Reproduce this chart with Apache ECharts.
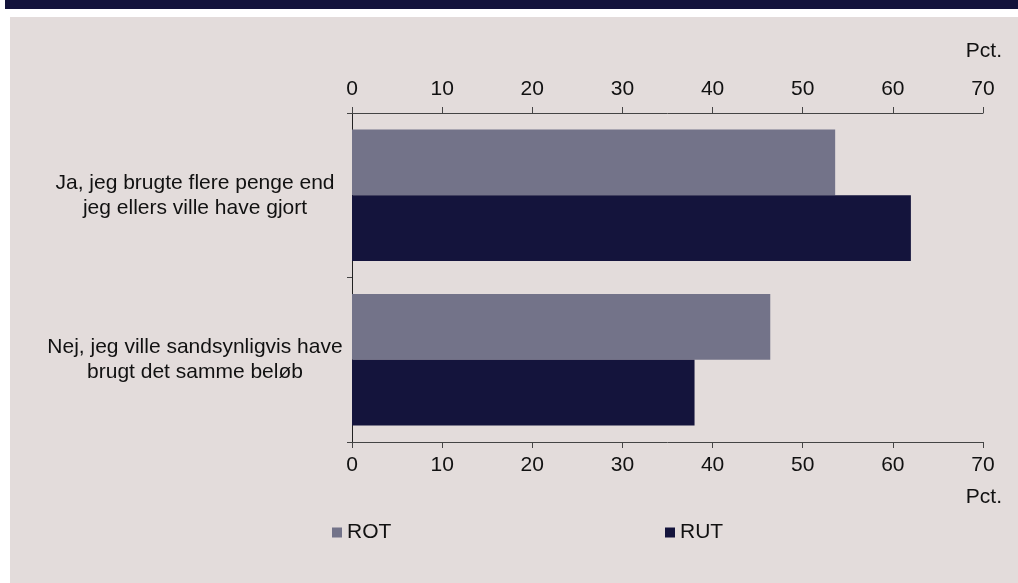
<!DOCTYPE html>
<html><head><meta charset="utf-8">
<script src="https://cdn.jsdelivr.net/npm/echarts@6/dist/echarts.min.js"></script>
<style>html,body{margin:0;padding:0;background:#fff;}#c{width:1018px;height:583px;}</style>
</head><body><div id="c"></div>
<script>
const categories = ['Ja, jeg brugte flere penge end\njeg ellers ville have gjort', 'Nej, jeg ville sandsynligvis have\nbrugt det samme beløb'];
const seriesNames = ['ROT', 'RUT'];
const rotValues = [53.6, 46.4];
const rutValues = [62.0, 38.0];
const xTicks = { min: 0, max: 70, interval: 10 };
const unitLabel = 'Pct.';

const font = 'Liberation Sans, Arial, sans-serif';
const fs = 21;
const axisColor = '#444444';
const textColor = '#111111';
const chart = echarts.init(document.getElementById('c'));
const xAxisBase = {
  type: 'value', min: xTicks.min, max: xTicks.max, interval: xTicks.interval,
  axisLine: { show: true, lineStyle: { color: axisColor, width: 1 } },
  axisTick: { show: true, inside: false, length: 6, lineStyle: { color: axisColor } },
  splitLine: { show: false },
  axisLabel: { color: textColor, fontSize: fs, fontFamily: font, margin: 13 }
};
chart.setOption({
  backgroundColor: '#ffffff',
  animation: false,
  graphic: [
    { type: 'rect', shape: { x: 5, y: 0, width: 1013, height: 9 }, style: { fill: '#13133b' }, z: -10 },
    { type: 'rect', shape: { x: 10, y: 17, width: 1008, height: 566 }, style: { fill: '#e3dcdb' }, z: -10 },
    { type: 'text', right: 16, top: 41, style: { text: unitLabel, fill: textColor, font: fs + 'px ' + font } },
    { type: 'text', right: 16, top: 487, style: { text: unitLabel, fill: textColor, font: fs + 'px ' + font } }
  ],
  grid: { left: 352, right: 35, top: 113, bottom: 141, containLabel: false },
  legend: [
    { data: ['ROT'], left: 332, top: 522, padding: 0, itemWidth: 10, itemHeight: 10, icon: 'rect',
      textStyle: { color: textColor, fontSize: fs, fontFamily: font } },
    { data: ['RUT'], left: 665, top: 522, padding: 0, itemWidth: 10, itemHeight: 10, icon: 'rect',
      textStyle: { color: textColor, fontSize: fs, fontFamily: font } }
  ],
  xAxis: [
    Object.assign({}, xAxisBase, { position: 'top' }),
    Object.assign({}, xAxisBase, { position: 'bottom' })
  ],
  yAxis: {
    type: 'category', data: categories, inverse: true,
    axisLine: { show: true, lineStyle: { color: '#222222', width: 1 } },
    axisTick: { show: true, length: 5, lineStyle: { color: axisColor } },
    axisLabel: { color: textColor, fontSize: fs, fontFamily: font, align: 'center', margin: 157, lineHeight: 25 }
  },
  series: [
    { name: seriesNames[0], type: 'bar', data: rotValues, xAxisIndex: 0, itemStyle: { color: '#737389' }, barGap: '0%', barCategoryGap: '20%' },
    { name: seriesNames[1], type: 'bar', data: rutValues, xAxisIndex: 0, itemStyle: { color: '#14143c' }, barGap: '0%', barCategoryGap: '20%' }
  ]
});
</script></body></html>
